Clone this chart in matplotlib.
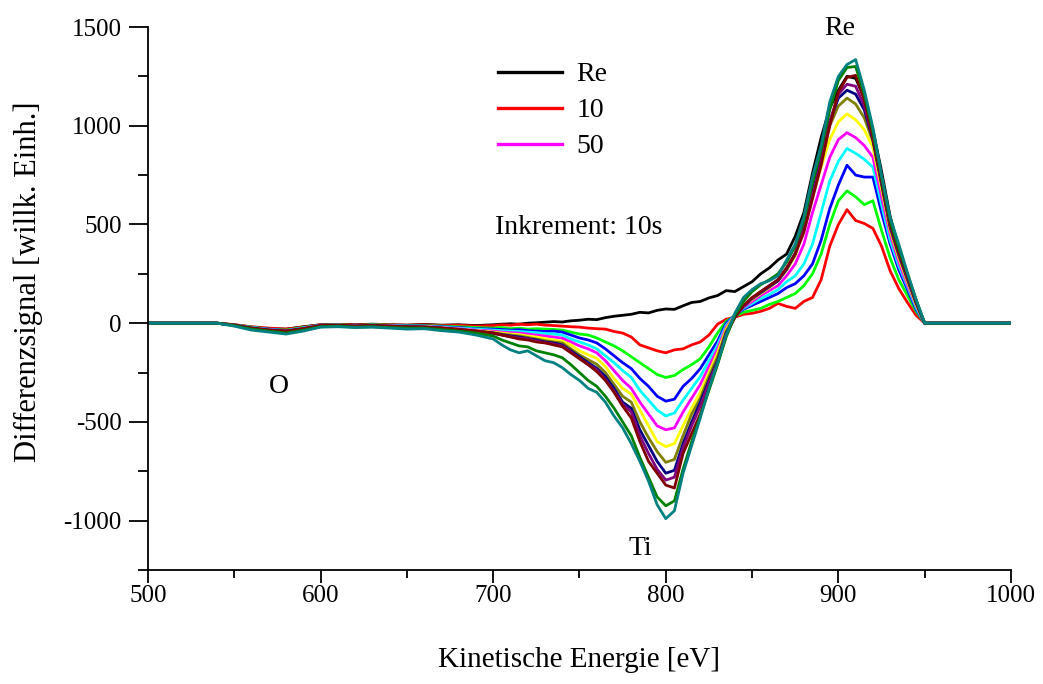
import matplotlib.pyplot as plt
from matplotlib.ticker import MultipleLocator
from matplotlib.lines import Line2D

plt.rcParams['font.family'] = ['Liberation Serif', 'DejaVu Serif']
plt.rcParams['axes.unicode_minus'] = False

# energy grid [eV]: coarse in the flat part, 5 eV steps across the Ti / Re features
energy = ([500] + list(range(540, 700, 10)) + list(range(700, 955, 5)) + [1000])

# difference spectra, one list per sputter step (Re reference + 10 ... 120 s)
sig_re = ([0, 0, -8, -20, -28, -30, -18, -8, -6, -8, -5, -8, -10, -6, -10, -8, -12]
          + [-8, -5, -3, -5, 0, 2, 5, 8, 6, 12, 15, 20, 18, 28, 35, 40, 45, 55, 52, 65,
             72, 70, 88, 105, 110, 128, 140, 165, 160, 185, 210, 250, 280, 320, 350, 440,
             560, 760, 940, 1090, 1180, 1250, 1240, 1140, 980, 770, 540, 380, 230, 100, 0]
          + [0])
sig_10 = ([0, 0, -8, -18, -25, -30, -20, -8, -6, -10, -6, -8, -10, -8, -12, -10, -15]
          + [-12, -8, -10, -5, -8, -5, -10, -12, -15, -18, -20, -25, -28, -30, -42, -50,
             -70, -110, -125, -140, -150, -135, -130, -110, -95, -60, -5, 20, 30, 45, 50,
             60, 75, 100, 85, 75, 110, 130, 220, 390, 500, 575, 520, 505, 480, 390, 265,
             175, 105, 40, 0]
          + [0])
sig_20 = ([0, 0, -10, -20, -30, -35, -22, -10, -8, -12, -8, -10, -12, -12, -15, -18, -22]
          + [-25, -22, -28, -25, -30, -28, -30, -32, -35, -45, -55, -60, -75, -95, -115,
             -140, -170, -200, -230, -260, -275, -265, -235, -210, -180, -120, -50, 10, 35,
             55, 65, 75, 95, 110, 130, 150, 190, 250, 350, 500, 620, 670, 640, 600, 620,
             470, 330, 220, 140, 60, 0]
          + [0])
sig_30 = ([0, 0, -10, -22, -30, -38, -25, -10, -10, -12, -10, -12, -14, -14, -18, -22, -28]
          + [-30, -32, -35, -33, -38, -40, -42, -40, -45, -60, -75, -85, -100, -130, -165,
             -200, -230, -280, -320, -370, -395, -385, -320, -280, -230, -160, -90, 0, 40,
             70, 90, 110, 130, 150, 180, 200, 240, 300, 420, 580, 700, 800, 750, 740, 740,
             560, 400, 270, 170, 70, 0]
          + [0])
sig_40 = ([0, 0, -10, -22, -32, -38, -24, -12, -10, -14, -10, -12, -15, -15, -20, -25, -30]
          + [-35, -38, -40, -42, -45, -48, -52, -55, -60, -80, -95, -110, -130, -165, -200,
             -240, -275, -340, -390, -440, -470, -455, -390, -330, -270, -190, -110, -10,
             40, 75, 100, 125, 145, 170, 210, 240, 300, 400, 560, 720, 820, 885, 860, 830,
             790, 600, 420, 290, 185, 80, 0]
          + [0])
sig_50 = ([0, 0, -10, -24, -33, -40, -26, -12, -10, -14, -12, -14, -16, -16, -22, -28, -35]
          + [-40, -45, -48, -50, -55, -60, -65, -70, -76, -95, -115, -130, -150, -190, -240,
             -290, -330, -400, -460, -520, -540, -530, -450, -380, -310, -220, -130, -20,
             40, 80, 110, 140, 165, 190, 240, 300, 400, 560, 700, 840, 930, 965, 940, 900,
             840, 640, 450, 310, 195, 90, 0]
          + [0])
sig_60 = ([0, 0, -10, -25, -35, -42, -28, -14, -12, -15, -12, -15, -18, -18, -24, -30, -38]
          + [-45, -50, -55, -58, -65, -70, -78, -85, -91, -110, -140, -160, -178, -220, -280,
             -330, -360, -440, -520, -600, -625, -610, -520, -430, -350, -250, -150, -30,
             40, 85, 120, 150, 180, 215, 270, 340, 480, 640, 790, 930, 1020, 1060, 1030,
             980, 890, 680, 470, 330, 210, 95, 0]
          + [0])
sig_70 = ([0, 0, -10, -25, -35, -42, -28, -14, -12, -16, -13, -16, -20, -20, -26, -32, -40]
          + [-48, -55, -60, -65, -72, -80, -88, -95, -100, -130, -160, -185, -208, -250, -310,
             -370, -400, -500, -580, -650, -705, -690, -570, -460, -380, -270, -170, -40, 35,
             85, 125, 155, 185, 215, 270, 350, 500, 680, 850, 1000, 1100, 1140, 1110, 1040,
             920, 700, 480, 340, 220, 100, 0]
          + [0])
sig_80 = ([0, 0, -10, -25, -35, -40, -28, -13, -11, -15, -12, -15, -18, -19, -25, -31, -40]
          + [-50, -58, -65, -70, -78, -85, -95, -100, -110, -140, -170, -200, -228, -270,
             -330, -400, -431, -540, -620, -700, -760, -745, -610, -500, -400, -290, -190,
             -50, 30, 85, 125, 155, 185, 215, 275, 350, 490, 660, 830, 1020, 1140, 1180,
             1160, 1080, 930, 710, 490, 350, 225, 105, 0]
          + [0])
sig_90 = ([0, 0, -10, -26, -36, -41, -29, -13, -11, -15, -13, -15, -18, -20, -25, -32, -40]
          + [-52, -60, -68, -75, -80, -90, -98, -105, -115, -145, -178, -210, -235, -285,
             -345, -410, -450, -570, -660, -740, -795, -780, -630, -520, -420, -300, -195,
             -55, 30, 85, 125, 160, 190, 220, 280, 355, 480, 650, 820, 1020, 1160, 1210,
             1200, 1100, 935, 715, 495, 355, 230, 108, 0]
          + [0])
sig_100 = ([0, 0, -10, -25, -35, -40, -28, -12, -10, -15, -12, -15, -18, -20, -25, -32, -40]
           + [-50, -60, -70, -80, -85, -95, -100, -110, -120, -150, -180, -210, -245, -290,
              -350, -420, -480, -600, -700, -760, -820, -835, -660, -560, -460, -330, -200,
              -60, 30, 90, 130, 160, 190, 220, 280, 350, 460, 630, 800, 1000, 1170, 1245,
              1255, 1130, 940, 720, 500, 360, 235, 110, 0]
           + [0])
sig_110 = ([0, 0, -12, -30, -40, -50, -35, -18, -15, -20, -18, -22, -25, -25, -32, -40, -50]
           + [-65, -85, -100, -115, -120, -140, -150, -160, -175, -210, -250, -290, -320,
              -370, -430, -500, -570, -680, -780, -880, -925, -900, -740, -600, -470, -340,
              -210, -70, 40, 110, 160, 195, 220, 250, 310, 390, 520, 710, 880, 1080, 1230,
              1295, 1300, 1160, 970, 740, 520, 380, 250, 120, 0]
           + [0])
sig_120 = ([0, 0, -15, -35, -45, -55, -40, -20, -18, -22, -20, -25, -30, -28, -38, -45, -60]
           + [-80, -110, -135, -150, -140, -165, -190, -200, -225, -260, -290, -330, -350,
              -400, -470, -530, -610, -700, -800, -920, -990, -950, -760, -620, -480, -330,
              -200, -60, 50, 130, 170, 200, 215, 240, 320, 400, 540, 740, 900, 1120, 1250,
              1310, 1335, 1180, 990, 750, 535, 400, 255, 120, 0]
           + [0])

series = [sig_re, sig_10, sig_20, sig_30, sig_40, sig_50, sig_60, sig_70, sig_80,
          sig_90, sig_100, sig_110, sig_120]
colors = ['black', '#ff0000', '#00ff00', '#0000ff', '#00ffff', '#ff00ff', '#ffff00',
          '#808000', '#000080', '#800080', '#800000', '#008000', '#008080']

fig = plt.figure(figsize=(10.43, 6.84), dpi=100)
ax = fig.add_axes([0.1419, 0.1667, 0.8274, 0.7938])

for sig, c in zip(series, colors):
    ax.plot(energy, sig, color=c, lw=2.0)

ax.set_xlim(500, 1000)
ax.set_ylim(-1250, 1500)
ax.xaxis.set_major_locator(MultipleLocator(100))
ax.xaxis.set_minor_locator(MultipleLocator(50))
ax.yaxis.set_major_locator(MultipleLocator(500))
ax.yaxis.set_minor_locator(MultipleLocator(250))
ax.tick_params(which='major', direction='out', length=14, width=1.3, labelsize=18, pad=5)
ax.tick_params(which='minor', direction='out', length=7, width=1.3)
ax.tick_params(axis='x', which='major', length=9, pad=2)
ax.tick_params(axis='x', which='minor', length=6)
for side in ['top', 'right']:
    ax.spines[side].set_visible(False)
for side in ['left', 'bottom']:
    ax.spines[side].set_linewidth(1.3)

ax.set_xlabel('Kinetische Energie [eV]', fontsize=21)
ax.set_ylabel('Differenzsignal [willk. Einh.]', fontsize=22)
ax.xaxis.set_label_coords(0.5, -0.142)
ax.yaxis.set_label_coords(-0.122, 0.53)

# peak labels
ax.text(901, 1490, 'Re', fontsize=20, ha='center', va='center')
ax.text(576, -320, 'O', fontsize=20, ha='center', va='center')
ax.text(785, -1140, 'Ti', fontsize=20, ha='center', va='center')
ax.text(701, 485, 'Inkrement: 10s', fontsize=20, ha='left', va='center')

handles = [Line2D([], [], color='black', lw=2.4),
           Line2D([], [], color='#ff0000', lw=2.4),
           Line2D([], [], color='#ff00ff', lw=2.4)]
ax.legend(handles, ['Re', '10', '50'], loc='upper left', bbox_to_anchor=(0.377, 0.982),
          frameon=False, fontsize=20, handlelength=2.3, handletextpad=0.5,
          labelspacing=0.38)

fig.savefig('out.png', dpi=100)
